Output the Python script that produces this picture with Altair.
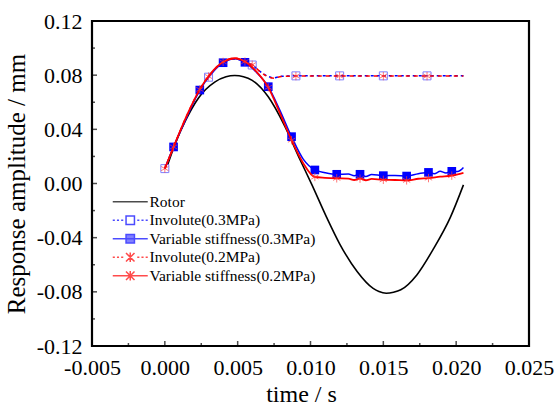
import altair as alt
import pandas as pd

# ---------------- data ----------------
SERIES = ["Rotor", "Involute(0.3MPa)", "Variable stiffness(0.3MPa)",
          "Involute(0.2MPa)", "Variable stiffness(0.2MPa)"]
COLORS = ["#000000", "#0000ff", "#0000ff", "#ff0000", "#ff0000"]

rotor_t = [0.0002, 0.0007, 0.0014, 0.0023, 0.00345, 0.0042, 0.0048, 0.0054, 0.0060, 0.0071,
           0.00825, 0.0092, 0.0101, 0.0111, 0.0120, 0.0132, 0.0143, 0.0147, 0.0152, 0.0157,
           0.0162, 0.0173, 0.0184, 0.0196, 0.0205]
rotor_y = [0.014, 0.029, 0.046, 0.063, 0.075, 0.0788, 0.0797, 0.0789, 0.0762, 0.064,
           0.042, 0.0195, -0.001, -0.0248, -0.0445, -0.065, -0.0775, -0.0798, -0.081, -0.0803,
           -0.0785, -0.0675, -0.049, -0.025, -0.001]

inv03_t = [0.0, 0.0006, 0.0015, 0.0024, 0.0030, 0.0040, 0.0048, 0.0055, 0.0060, 0.0065,
           0.0070, 0.0075, 0.0080, 0.0090, 0.0120, 0.0150, 0.0180, 0.0205]
inv03_y = [0.011, 0.027, 0.049, 0.069, 0.0785, 0.0895, 0.092, 0.090, 0.0875, 0.083,
           0.0795, 0.078, 0.0792, 0.0795, 0.0795, 0.0795, 0.0795, 0.0795]

inv02_t = [0.0, 0.0006, 0.0015, 0.0024, 0.0030, 0.0040, 0.0048, 0.0055, 0.0060, 0.0065,
           0.0070, 0.0075, 0.0080, 0.0090, 0.0120, 0.0150, 0.0180, 0.0205]
inv02_y = [0.011, 0.027, 0.050, 0.0695, 0.079, 0.0898, 0.0925, 0.0902, 0.0877, 0.083,
           0.0793, 0.0778, 0.079, 0.0793, 0.0793, 0.0793, 0.0793, 0.0793]

var03_t = [0.0, 0.0006, 0.0015, 0.0024, 0.0032, 0.0040, 0.0048, 0.0055, 0.0063, 0.0071,
           0.0079, 0.0087, 0.0095, 0.0103, 0.0110, 0.0118, 0.0126, 0.0130, 0.0134,
           0.0138, 0.0142, 0.0150, 0.0158, 0.0166, 0.0174, 0.0181, 0.0185, 0.0189,
           0.0193, 0.0197, 0.0201, 0.0205]
var03_y = [0.011, 0.027, 0.049, 0.069, 0.081, 0.0892, 0.0922, 0.0895, 0.082, 0.0715,
           0.054, 0.0346, 0.018, 0.0100, 0.0080, 0.0068, 0.0070, 0.0058, 0.0068,
           0.0052, 0.0066, 0.0058, 0.0060, 0.0055, 0.0072, 0.0082, 0.0072, 0.0090,
           0.0078, 0.0090, 0.0088, 0.0118]

var02_t = [0.0, 0.0006, 0.0015, 0.0024, 0.0032, 0.0040, 0.0048, 0.0055, 0.0063, 0.0071,
           0.0079, 0.0087, 0.0095, 0.0103, 0.0110, 0.0118, 0.0126, 0.0130, 0.0134,
           0.0138, 0.0142, 0.0150, 0.0158, 0.0166, 0.0174, 0.0181, 0.0189, 0.0197,
           0.0205]
var02_y = [0.011, 0.027, 0.050, 0.0695, 0.082, 0.0898, 0.0925, 0.090, 0.0825, 0.071,
           0.052, 0.032, 0.015, 0.0048, 0.0042, 0.0038, 0.0036, 0.0026, 0.0036,
           0.0024, 0.0034, 0.0027, 0.0026, 0.0023, 0.0035, 0.0040, 0.0050, 0.0058,
           0.0078]

# marker positions
inv_mark_t = [0.0, 0.0030, 0.0060, 0.0090, 0.0120, 0.0150, 0.0180]
inv03_mark_y = [0.011, 0.0785, 0.0875, 0.0795, 0.0795, 0.0795, 0.0795]
inv02_mark_y = [0.011, 0.079, 0.0877, 0.0793, 0.0793, 0.0793, 0.0793]
var_mark_t = [0.0006, 0.0024, 0.0040, 0.0055, 0.0071, 0.0087, 0.0103, 0.0118,
              0.0134, 0.0150, 0.0166, 0.0181, 0.0197]
var03_mark_y = [0.027, 0.069, 0.0892, 0.0895, 0.0715, 0.0346, 0.0100, 0.0068,
                0.0068, 0.0058, 0.0055, 0.0082, 0.0090]
var02_mark_y = [0.027, 0.0695, 0.0898, 0.090, 0.071, 0.032, 0.0048, 0.0038,
                0.0036, 0.0027, 0.0023, 0.0040, 0.0058]

# axis ticks
x_major = [-0.005, 0.0, 0.005, 0.010, 0.015, 0.020, 0.025]
x_minor = [-0.0025, 0.0025, 0.0075, 0.0125, 0.0175, 0.0225]
y_major = [-0.12, -0.08, -0.04, 0.0, 0.04, 0.08, 0.12]
y_minor = [-0.10, -0.06, -0.02, 0.02, 0.06, 0.10]

# ---------------- styling ----------------
W, H = 437, 325
FONT = "Liberation Serif"
# legend symbol paths (unit = 5 px, symbol size 100)
SQ = "M-0.84,-0.84H0.84V0.84H-0.84Z"
AST = "M0,-0.95V0.95M-0.85,-0.85L0.85,0.85M-0.85,0.85L0.85,-0.85"
SOLID = "M-3.5,0H3.5"
DASH = ("M-3.5,0H-3.08M-2.66,0H-2.24M-1.82,0H-1.4"
        "M1.4,0H1.82M2.24,0H2.66M3.08,0H3.5")
LEG_SHAPES = [SOLID, DASH + SQ, SOLID + SQ, DASH + AST, SOLID + AST]
LEG_FILLS = ["transparent", "transparent", "#0000ff", "transparent", "transparent"]
STAR = "M0,-1V1M-0.87,-0.5L0.87,0.5M-0.87,0.5L0.87,-0.5"

xs = alt.Scale(domain=[-0.005, 0.025], nice=False, zero=False)
ys = alt.Scale(domain=[-0.12, 0.12], nice=False, zero=False)

def df(t, y, name):
    return pd.DataFrame({"t": t, "y": y, "series": name})

X = alt.X("t:Q", scale=xs, title="time / s",
          axis=alt.Axis(values=x_major, labelExpr="(datum.value < 0 ? '-' : '') + format(abs(datum.value), '.3f')",
                        tickSize=0, domain=False, grid=False, labelFont=FONT, labelFontSize=22,
                        labelPadding=11, titleFont=FONT, titleFontSize=24, titleFontWeight="normal",
                        titleX=209, titleY=55, titleBaseline="alphabetic", labelColor="black",
                        titleColor="black", labelFlush=False))
Y = alt.Y("y:Q", scale=ys, title="Response amplitude / mm",
          axis=alt.Axis(values=y_major, labelExpr="(datum.value < 0 ? '-' : '') + format(abs(datum.value), '.2f')",
                        tickSize=0, domain=False, grid=False, labelFont=FONT, labelFontSize=22,
                        labelPadding=10, titleFont=FONT, titleFontSize=25, titleFontWeight="normal",
                        titleX=-63, titleY=H / 2, titleBaseline="bottom", labelColor="black",
                        titleColor="black", labelFlush=False))

def line(t, y, name, color, dash=None, width=1.5):
    kw = dict(color=color, strokeWidth=width, interpolate="monotone", clip=True)
    if dash:
        kw["strokeDash"] = dash
    return alt.Chart(df(t, y, name)).mark_line(**kw).encode(x=X, y=Y)

def marks(t, y, name, shape, color, filled, size, sw=1.0, opacity=1.0):
    return alt.Chart(df(t, y, name)).mark_point(
        shape=shape, filled=filled, color=color, size=size, strokeWidth=sw, opacity=opacity
    ).encode(x=X, y=Y)

rotor = line(rotor_t, rotor_y, SERIES[0], "#000000", width=1.6)
l_inv03 = line(inv03_t, inv03_y, SERIES[1], "#0000ff", dash=[3, 3])
m_inv03 = marks(inv_mark_t, inv03_mark_y, SERIES[1], "square", "#6060ff", False, 64, 1.0, 0.8)
l_var03 = line(var03_t, var03_y, SERIES[2], "#0000ff")
m_var03 = marks(var_mark_t, var03_mark_y, SERIES[2], "square", "#0000ff", True, 75)
l_inv02 = line(inv02_t, inv02_y, SERIES[3], "#ff0000", dash=[4, 4])
m_inv02 = marks(inv_mark_t, inv02_mark_y, SERIES[3], STAR, "#ff4040", False, 70, 1.0, 0.7)
l_var02 = line(var02_t, var02_y, SERIES[4], "#ff0000", width=1.8)
m_var02 = marks(var_mark_t, var02_mark_y, SERIES[4], STAR, "#ff4040", False, 70, 1.0, 0.7)

# inward ticks
tick_y_major = alt.Chart(pd.DataFrame({"y": y_major})).mark_tick(
    orient="horizontal", size=5, thickness=1.5, color="black", xOffset=2.5
).encode(y=alt.Y("y:Q", scale=ys), x=alt.value(0))
tick_y_minor = alt.Chart(pd.DataFrame({"y": y_minor})).mark_tick(
    orient="horizontal", size=3, thickness=1.5, color="black", xOffset=1.5
).encode(y=alt.Y("y:Q", scale=ys), x=alt.value(0))
tick_x_major = alt.Chart(pd.DataFrame({"t": x_major})).mark_tick(
    orient="vertical", size=5, thickness=1.5, color="black", yOffset=-2.5
).encode(x=alt.X("t:Q", scale=xs), y=alt.value(H))
tick_x_minor = alt.Chart(pd.DataFrame({"t": x_minor})).mark_tick(
    orient="vertical", size=3, thickness=1.5, color="black", yOffset=-1.5
).encode(x=alt.X("t:Q", scale=xs), y=alt.value(H))

# legend (built from an empty layer so that only the legend is drawn)
leg_df = pd.DataFrame({"series": SERIES})
legend = alt.Legend(title=None, orient="none", legendX=30.5, legendY=173, padding=0,
                    symbolSize=100, symbolStrokeWidth=1.5, labelFont=FONT,
                    labelFontSize=15.5, labelColor="black", rowPadding=1.5, labelOffset=11.5,
                    labelLimit=400)
leg_layer = alt.Chart(leg_df).transform_filter("false").mark_point(filled=False).encode(
    color=alt.Color("series:N", scale=alt.Scale(domain=SERIES, range=COLORS), legend=legend),
    shape=alt.Shape("series:N", scale=alt.Scale(domain=SERIES, range=LEG_SHAPES), legend=legend),
    fill=alt.Fill("series:N", scale=alt.Scale(domain=SERIES, range=LEG_FILLS), legend=legend),
)

chart = alt.layer(
    rotor, l_inv03, m_inv03, l_var03, m_var03, l_inv02, m_inv02, l_var02, m_var02,
    tick_y_major, tick_y_minor, tick_x_major, tick_x_minor, leg_layer
).properties(
    width=W, height=H,
    autosize=alt.AutoSizeParams(type="none"),
    padding={"left": 92, "top": 21, "right": 556 - 92 - W, "bottom": 405 - 21 - H},
    background="white",
).configure_view(stroke="black", strokeWidth=2.2)

chart.save("out.html", embed_options={"renderer": "svg", "actions": False})
